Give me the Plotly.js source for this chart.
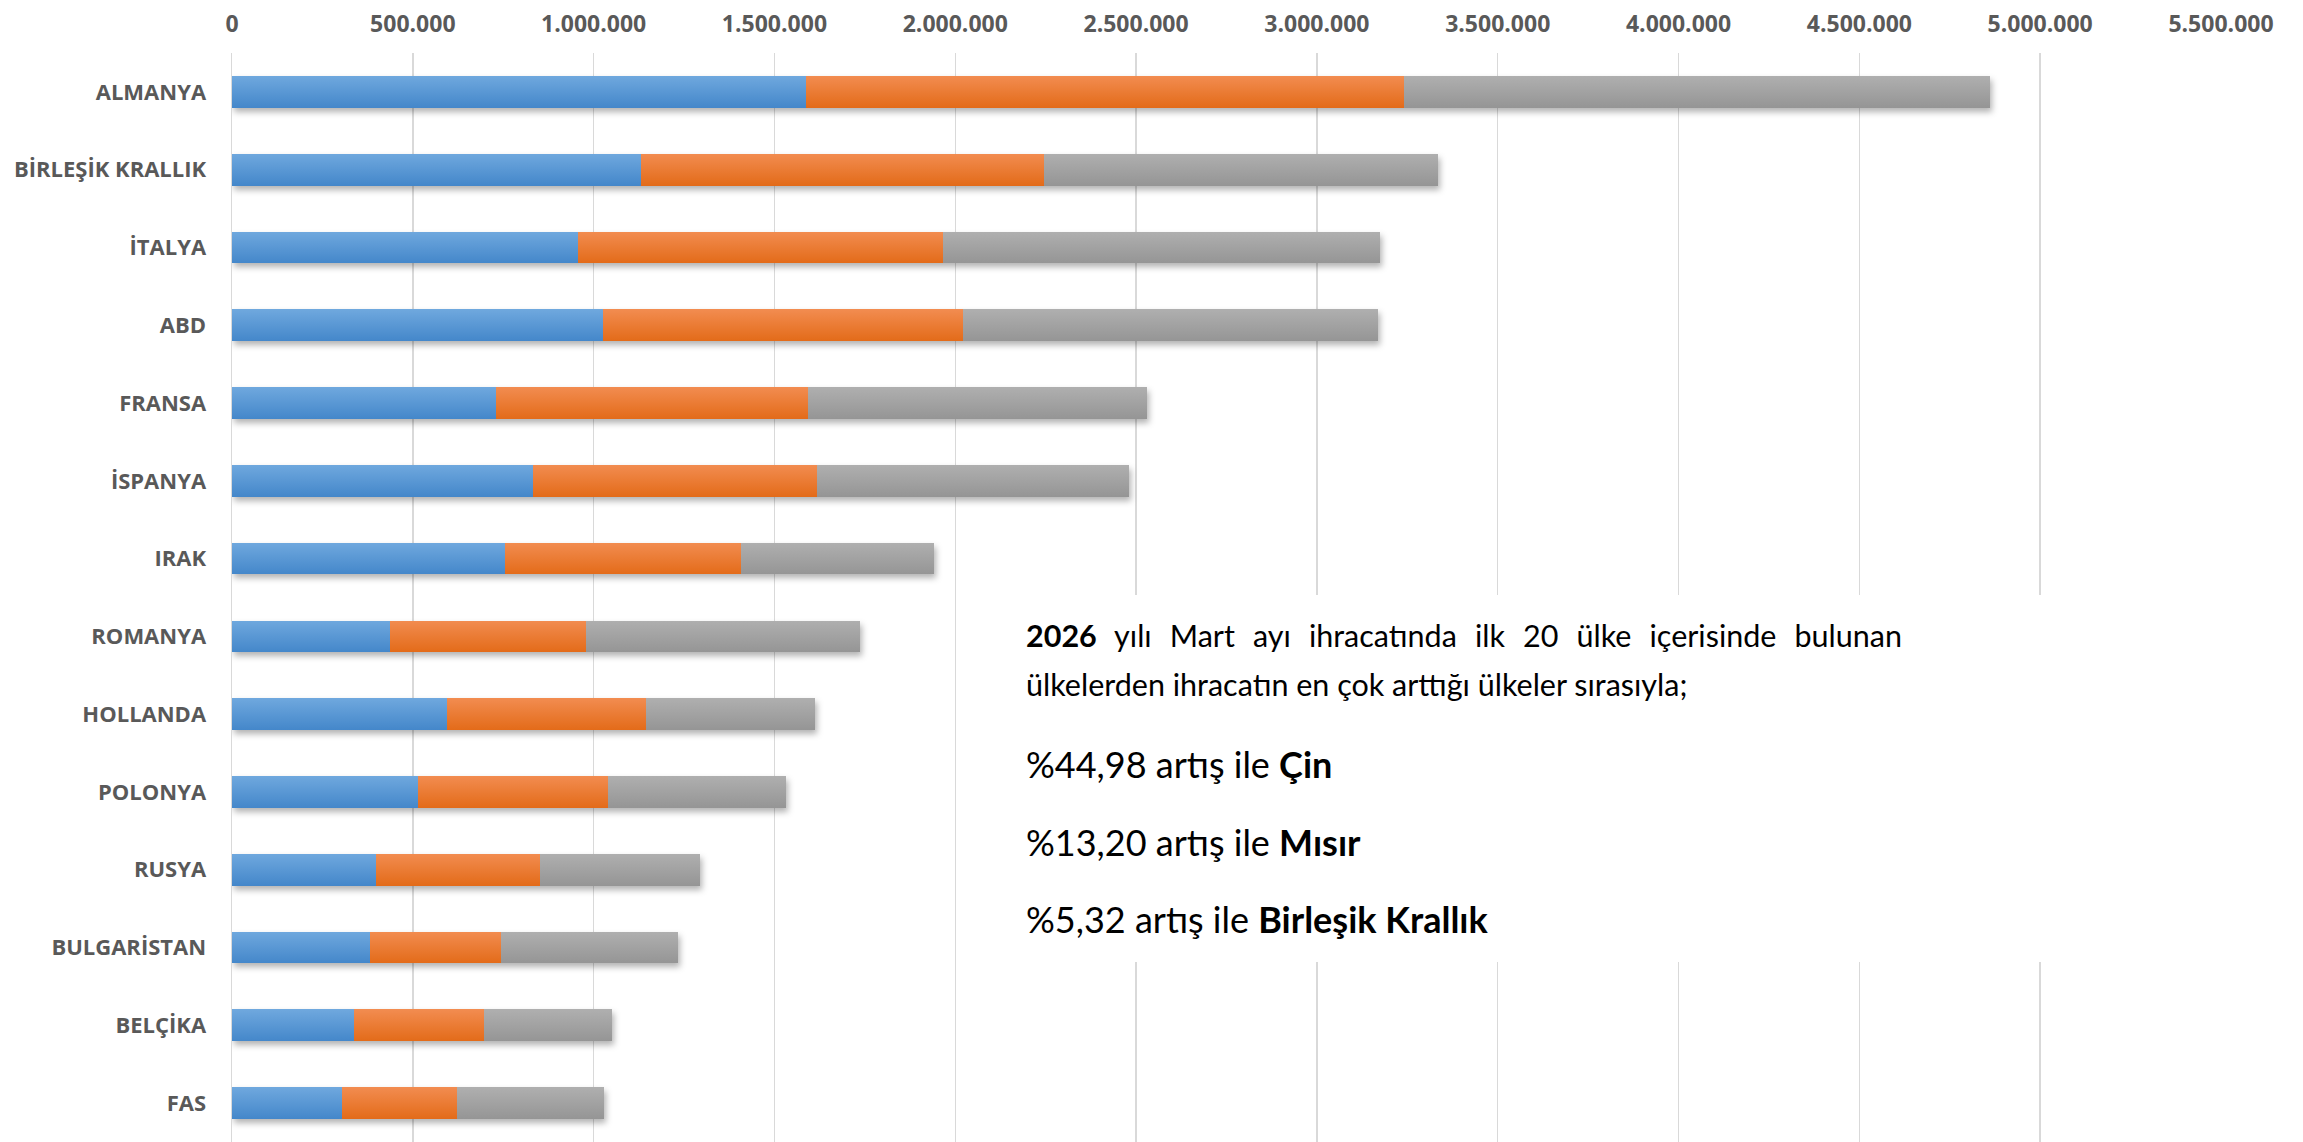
<!DOCTYPE html>
<html>
<head>
<meta charset="utf-8">
<script src="https://cdn.plot.ly/plotly-3.0.1.min.js"></script>
<style>
  html, body { margin: 0; padding: 0; background: #fff; }
  #chart { width: 2303px; height: 1142px; }
  .barlayer .trace:nth-of-type(1) .point path { fill: url(#gBlue) !important; }
  .barlayer .trace:nth-of-type(2) .point path { fill: url(#gOrange) !important; }
  .barlayer .trace:nth-of-type(3) .point path { fill: url(#gGray) !important; }
  .barlayer { filter: drop-shadow(2px 4px 3px rgba(0,0,0,0.30)); }
</style>
</head>
<body>
<svg width="0" height="0" style="position:absolute">
  <defs>
    <linearGradient id="gBlue" x1="0" y1="0" x2="0" y2="1">
      <stop offset="0" stop-color="#6FA8DE"/><stop offset="1" stop-color="#4487CA"/>
    </linearGradient>
    <linearGradient id="gOrange" x1="0" y1="0" x2="0" y2="1">
      <stop offset="0" stop-color="#F28C50"/><stop offset="1" stop-color="#E36B19"/>
    </linearGradient>
    <linearGradient id="gGray" x1="0" y1="0" x2="0" y2="1">
      <stop offset="0" stop-color="#AFAFAF"/><stop offset="1" stop-color="#959595"/>
    </linearGradient>
  </defs>
</svg>
<div id="chart"></div>
<script>
// ---- Data ----
const categories = ['ALMANYA','BİRLEŞİK KRALLIK','İTALYA','ABD','FRANSA','İSPANYA','IRAK','ROMANYA','HOLLANDA','POLONYA','RUSYA','BULGARİSTAN','BELÇİKA','FAS'];
const seriesNames = ['Ocak','Şubat','Mart'];
const series1 = [1586000,1130000,958000,1027000,730000,831000,755000,438000,595000,515000,397000,381000,337000,303000];
const series2 = [1655000,1114000,1009000,993000,862000,786000,652000,540000,550000,525000,454000,362000,360000,319000];
const series3 = [1621000,1091000,1208000,1148000,938000,864000,534000,758000,466000,491000,443000,491000,354000,406000];
const xTickStep = 500000;
const xMax = 5500000;

const noteLines = [
  '<b>2026</b> yılı Mart ayı ihracatında ilk 20 ülke içerisinde bulunan',
  'ülkelerden ihracatın en çok arttığı ülkeler sırasıyla;',
  '%44,98 artış ile <b>Çin</b>',
  '%13,20 artış ile <b>Mısır</b>',
  '%5,32 artış ile <b>Birleşik Krallık</b>'
];

// ---- Layout helpers (pixel -> paper) ----
const W = 2303, H = 1142;
const M = {l: 232, r: 82, t: 53, b: 0};
const plotW = W - M.l - M.r, plotH = H - M.t - M.b;
const px = x => (x - M.l) / plotW;
const py = y => 1 - (y - M.t) / plotH;

const colors = ['#5B9BD5','#ED7D31','#A5A5A5'];
const values = [series1, series2, series3];
const traces = values.map((v, i) => ({
  type: 'bar',
  orientation: 'h',
  name: seriesNames[i],
  y: categories,
  x: v,
  marker: {color: colors[i], line: {width: 0}},
  hoverinfo: 'x+y+name'
}));

const noteY = [635, 684, 764, 842, 919];
const noteSize = [30.5, 30.5, 36, 36, 36];
const annotations = noteLines.map((t, i) => ({
  xref: 'paper', yref: 'paper',
  x: px(1024), y: py(noteY[i]),
  xanchor: 'left', yanchor: 'middle', align: 'left',
  text: t, showarrow: false,
  font: {family: 'Lato, "Open Sans", sans-serif', size: noteSize[i], color: '#000000'}
}));

const layout = {
  width: W, height: H,
  margin: {l: M.l, r: M.r, t: M.t, b: M.b, pad: 0},
  paper_bgcolor: '#ffffff', plot_bgcolor: '#ffffff',
  barmode: 'stack',
  bargap: 0.593,
  showlegend: false,
  separators: ',.',
  xaxis: {
    side: 'top',
    range: [0, xMax],
    tick0: 0, dtick: xTickStep,
    tickformat: ',d',
    showgrid: true, gridcolor: '#D9D9D9', gridwidth: 1.5,
    zeroline: false, showline: false,
    ticks: '',
    ticklabelstandoff: 15,
    tickfont: {family: '"Open Sans", sans-serif', size: 23, color: '#595959', weight: 700},
    fixedrange: true
  },
  yaxis: {
    type: 'category',
    autorange: 'reversed',
    showgrid: false, zeroline: false,
    showline: true, linecolor: '#D9D9D9', linewidth: 1.5,
    ticks: '',
    ticklabelstandoff: 20,
    tickfont: {family: '"Open Sans", sans-serif', size: 22, color: '#595959', weight: 700},
    fixedrange: true
  },
  shapes: [{
    type: 'rect', xref: 'paper', yref: 'paper', layer: 'above',
    x0: px(1000), x1: px(2303), y0: py(962), y1: py(595),
    fillcolor: '#ffffff', line: {width: 0}
  }],
  annotations: annotations
};

Plotly.newPlot('chart', traces, layout, {displayModeBar: false, staticPlot: true}).then(gd => {
  // justify the first paragraph line across its box
  const t = gd.querySelector('.annotation[data-index="0"] text.annotation-text');
  if (t) {
    const w = t.getBBox().width;
    const target = 1904 - 1028;
    const spaces = (noteLines[0].replace(/<[^>]+>/g, '').match(/ /g) || []).length;
    if (w < target && spaces > 0) t.style.wordSpacing = ((target - w) / spaces) + 'px';
  }
});
</script>
</body>
</html>
